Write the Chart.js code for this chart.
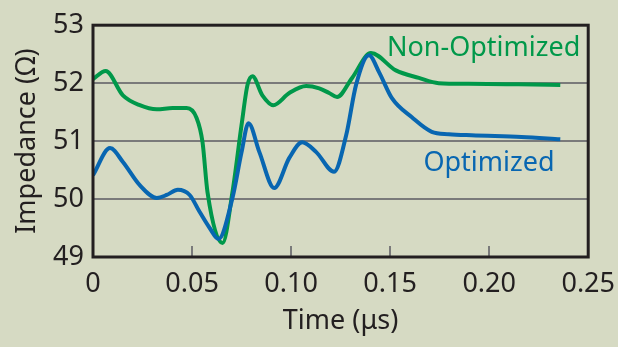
<!DOCTYPE html>
<html>
<head>
<meta charset="utf-8">
<script src="https://cdn.jsdelivr.net/npm/chart.js@4/dist/chart.umd.min.js"></script>
<style>
  html, body { margin: 0; padding: 0; background: #d6dac3; }
  #wrap { width: 618px; height: 347px; }
</style>
</head>
<body>
<div id="wrap"><canvas id="chart"></canvas></div>
<script>
// time samples (us) and impedance (ohm) for both traces
const nonOptTime = [0, 0.0064, 0.0151, 0.0236, 0.0322, 0.0402, 0.0473, 0.0523, 0.0553, 0.0578, 0.0654, 0.0704, 0.0750, 0.0780, 0.0805, 0.0855, 0.0910, 0.0991, 0.1076, 0.1142, 0.1192, 0.1232, 0.1308, 0.1403, 0.1529, 0.1645, 0.1745, 0.1896, 0.2148, 0.2359];
const nonOptZ    = [52.07, 52.21, 51.79, 51.62, 51.55, 51.57, 51.57, 51.40, 50.98, 50.12, 49.24, 50.12, 51.28, 51.97, 52.12, 51.79, 51.62, 51.83, 51.95, 51.91, 51.83, 51.76, 52.09, 52.52, 52.22, 52.09, 52.00, 51.99, 51.98, 51.97];

const optTime = [0, 0.0086, 0.0151, 0.0236, 0.0322, 0.0372, 0.0428, 0.0488, 0.0538, 0.0589, 0.0634, 0.0704, 0.0750, 0.0785, 0.0840, 0.0915, 0.0991, 0.1056, 0.1127, 0.1217, 0.1278, 0.1328, 0.1393, 0.1444, 0.1509, 0.1610, 0.1710, 0.1796, 0.1911, 0.2163, 0.2359];
const optZ    = [50.41, 50.88, 50.64, 50.24, 50.02, 50.07, 50.16, 50.07, 49.78, 49.50, 49.31, 50.02, 50.81, 51.31, 50.81, 50.19, 50.71, 50.98, 50.81, 50.47, 51.10, 51.97, 52.48, 52.19, 51.74, 51.41, 51.16, 51.12, 51.10, 51.07, 51.03];

const xTicks = [0, 0.05, 0.10, 0.15, 0.20, 0.25];
const xTickLabels = ['0', '0.05', '0.10', '0.15', '0.20', '0.25'];
const yTicks = [49, 50, 51, 52, 53];

const GREEN = '#00984a';
const BLUE = '#0866b1';
const INK = '#231f20';
const FONT = '"Noto Sans", sans-serif';

const toPoints = (xs, ys) => xs.map((x, i) => ({ x: x, y: ys[i] }));

// frame, inward x ticks and in-plot series names
const decor = {
  id: 'decor',
  afterDatasetsDraw(chart) {
    const { ctx, chartArea: a, scales } = chart;
    ctx.save();
    ctx.strokeStyle = '#7a7a7a';
    ctx.lineWidth = 2;
    xTicks.slice(1, -1).forEach(v => {
      const px = Math.round(scales.x.getPixelForValue(v));
      ctx.beginPath();
      ctx.moveTo(px, a.bottom);
      ctx.lineTo(px, a.bottom - 11);
      ctx.stroke();
    });
    ctx.strokeStyle = INK;
    ctx.lineWidth = 3;
    ctx.strokeRect(a.left, a.top, a.right - a.left, a.bottom - a.top);

    ctx.font = '27px ' + FONT;
    ctx.textAlign = 'right';
    ctx.textBaseline = 'middle';
    ctx.fillStyle = GREEN;
    ctx.fillText('Non-Optimized', scales.x.getPixelForValue(0.246), scales.y.getPixelForValue(52.6));
    ctx.fillStyle = BLUE;
    ctx.fillText('Optimized', scales.x.getPixelForValue(0.233), scales.y.getPixelForValue(50.62));
    ctx.restore();
  }
};

new Chart(document.getElementById('chart'), {
  type: 'line',
  data: {
    datasets: [
      {
        label: 'Optimized',
        data: toPoints(optTime, optZ),
        borderColor: BLUE,
        borderWidth: 4,
        pointRadius: 0,
        cubicInterpolationMode: 'monotone',
        fill: false
      },
      {
        label: 'Non-Optimized',
        data: toPoints(nonOptTime, nonOptZ),
        borderColor: GREEN,
        borderWidth: 4,
        pointRadius: 0,
        cubicInterpolationMode: 'monotone',
        fill: false
      }
    ]
  },
  options: {
    responsive: true,
    maintainAspectRatio: false,
    animation: false,
    layout: { padding: { top: 25, right: 28, left: 7, bottom: 0 } },
    plugins: { legend: { display: false }, tooltip: { enabled: false } },
    scales: {
      x: {
        type: 'linear',
        min: 0,
        max: 0.25,
        afterBuildTicks: s => { s.ticks = xTicks.map(v => ({ value: v })); },
        afterFit: s => { s.height = 90; },
        grid: { display: false },
        border: { display: false },
        ticks: {
          color: INK,
          font: { family: FONT, size: 27 },
          padding: 3,
          maxRotation: 0,
          callback: (v, i) => xTickLabels[i]
        },
        title: {
          display: true,
          text: 'Time (\u03bcs)',
          color: INK,
          font: { family: FONT, size: 27 },
          padding: { top: 2, bottom: 9 }
        }
      },
      y: {
        min: 49,
        max: 53,
        afterBuildTicks: s => { s.ticks = yTicks.map(v => ({ value: v })); },
        afterFit: s => { s.width = 86; },
        grid: {
          color: ctx => (ctx.tick && (ctx.tick.value === 49 || ctx.tick.value === 53)) ? 'rgba(0,0,0,0)' : '#7a7a7a',
          lineWidth: 2,
          drawTicks: false
        },
        border: { display: false },
        ticks: {
          color: INK,
          font: { family: FONT, size: 27 },
          padding: 9
        },
        title: {
          display: true,
          text: 'Impedance (\u03a9)',
          color: INK,
          font: { family: FONT, size: 27 },
          padding: { bottom: 0 }
        }
      }
    }
  },
  plugins: [decor]
});
</script>
</body>
</html>
